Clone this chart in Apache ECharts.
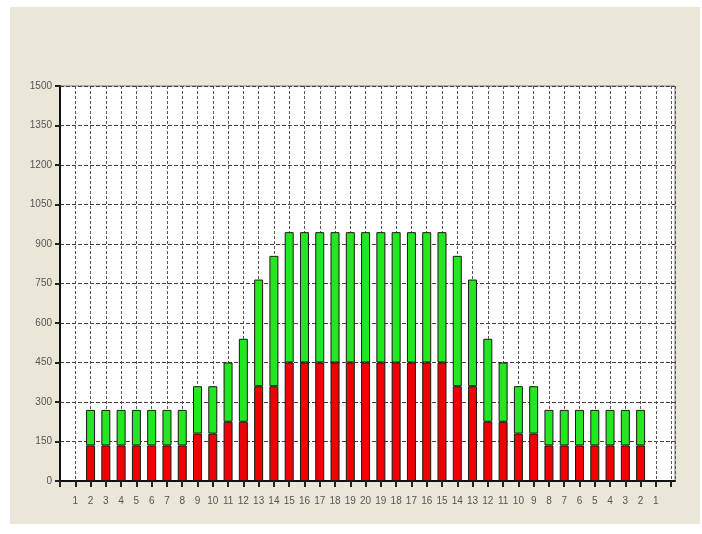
<!DOCTYPE html>
<html>
<head>
<meta charset="utf-8">
<script src="https://cdn.jsdelivr.net/npm/echarts@6/dist/echarts.min.js"></script>
<style>html,body{margin:0;padding:0;background:#fff;}#c{width:702px;height:534px;}</style>
</head>
<body>
<div id="c"></div>
<script>
var categories = ['1','2','3','4','5','6','7','8','9','10','11','12','13','14','15','16','17','18','19','20','19','18','17','16','15','14','13','12','11','10','9','8','7','6','5','4','3','2','1'];
var redValues = [null,135,135,135,135,135,135,135,180,180,225,225,360,360,450,450,450,450,450,450,450,450,450,450,450,360,360,225,225,180,180,135,135,135,135,135,135,135,null];
var greenValues = [null,135,135,135,135,135,135,135,180,180,225,315,405,495,495,495,495,495,495,495,495,495,495,495,495,495,405,315,225,180,180,135,135,135,135,135,135,135,null];
var yTicks = [0,150,300,450,600,750,900,1050,1200,1350,1500];

var chart = echarts.init(document.getElementById('c'), null, {renderer: 'canvas'});
// value first (stacked dimension), x position second
function pairs(arr){ return arr.map(function(v,i){ return [v == null ? '-' : v, i+1]; }); }
var labelFont = {color:'#555', fontSize:10, fontFamily:'"Liberation Sans Narrow","Liberation Sans",Arial,sans-serif'};
chart.setOption({
  animation:false,
  backgroundColor:'#ffffff',
  graphic:[{type:'rect', z:-10, shape:{x:10,y:7,width:690,height:517}, style:{fill:'#ebe7d8'}}],
  grid:{left:60, right:27, top:86, bottom:53, show:true, backgroundColor:'#ffffff', borderColor:'#7a7a7a', borderWidth:1},
  xAxis:{
    type:'value', min:0, max:40.25, interval:1,
    axisLine:{show:true, onZero:false, lineStyle:{color:'#111', width:2}},
    axisTick:{show:true, length:6, lineStyle:{color:'#222', width:2}},
    axisLabel:Object.assign({margin:15, showMaxLabel:false, formatter:function(v){ var i=Math.round(v); return (i>=1 && i<=categories.length && Math.abs(v-i)<1e-6) ? categories[i-1] : ''; }}, labelFont),
    splitLine:{show:true, lineStyle:{color:'#555', type:[3,2], width:1}}
  },
  yAxis:{
    type:'value', min:0, max:1500, interval:150,
    axisLine:{show:true, lineStyle:{color:'#111', width:2}},
    axisTick:{show:true, length:5, lineStyle:{color:'#222', width:2}},
    axisLabel:Object.assign({margin:8, formatter:function(v){ return yTicks.indexOf(v)>=0 ? String(v) : ''; }}, labelFont),
    splitLine:{show:true, lineStyle:{color:'#5a3636', type:[4,2], width:1}}
  },
  series:[
    {type:'bar', stack:'s', barWidth:9, encode:{x:1, y:0}, data:pairs(redValues), itemStyle:{color:'#f00000', borderColor:'#1a1a1a', borderWidth:1}},
    {type:'bar', stack:'s', barWidth:9, encode:{x:1, y:0}, data:pairs(greenValues), itemStyle:{color:'#22e822', borderColor:'#1a1a1a', borderWidth:1}}
  ]
});
</script>
</body>
</html>
